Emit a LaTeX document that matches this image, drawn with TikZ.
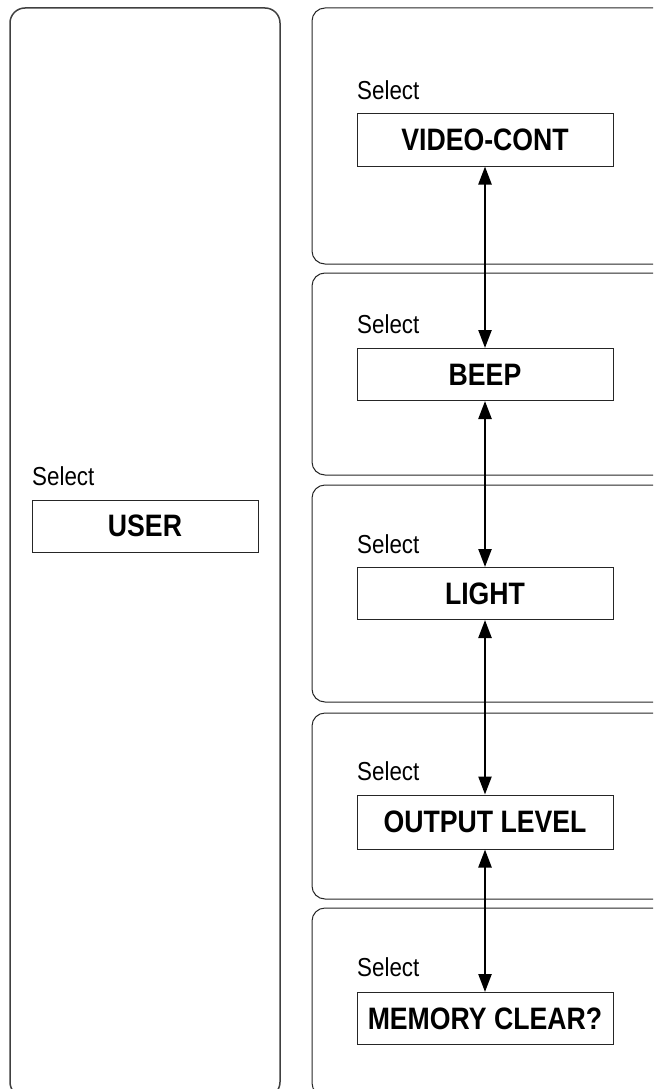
\documentclass[tikz,border=0pt]{standalone}
\usepackage{fontspec}
\setmainfont{Liberation Sans}[FakeStretch=0.86]
\usetikzlibrary{arrows.meta}
\tikzset{
  panel/.style={draw=black!85, line width=1pt, rounded corners=13pt},
  lpanel/.style={draw=black!75, line width=1.5pt, rounded corners=15pt},
  menubox/.style={draw=black!85, line width=1pt, minimum width=256pt, minimum height=52pt, inner sep=0pt,
    font=\fontsize{31}{36}\selectfont\bfseries},
  selectlbl/.style={anchor=base west, inner sep=0pt, font=\fontsize{26}{30}\selectfont},
  dbl/.style={line width=2.4pt, {Triangle[length=18pt,width=13pt]}-{Triangle[length=18pt,width=13pt]}}
}
\begin{document}
\begin{tikzpicture}[x=1pt,y=1pt]
\useasboundingbox (0,0) rectangle (653,-1089);
\clip (0,0) rectangle (653,-1089);
% panels
\draw[lpanel] (10,-8) rectangle (280,-1097);
\draw[panel] (312,-8) rectangle (690,-264);
\draw[panel] (312,-273) rectangle (690,-475);
\draw[panel] (312,-485) rectangle (690,-702);
\draw[panel] (312,-713) rectangle (690,-899);
\draw[panel] (312,-908) rectangle (690,-1096);
% left
\node[selectlbl] (su) at (32,-485) {Select};
\node[menubox, minimum width=226pt] (user) at (145,-526) {USER};
% right
\node[selectlbl] (s1) at (357,-100) {Select};
\node[menubox] (video) at (485,-140) {VIDEO-CONT};
\node[selectlbl] (s2) at (357,-333) {Select};
\node[menubox] (beep) at (485,-374.5) {BEEP};
\node[selectlbl] (s3) at (357,-553) {Select};
\node[menubox] (light) at (485,-593.5) {LIGHT};
\node[selectlbl] (s4) at (357,-780) {Select};
\node[menubox, minimum height=54pt] (output) at (485,-822) {OUTPUT LEVEL};
\node[selectlbl] (s5) at (357,-976) {Select};
\node[menubox] (memory) at (485,-1018.5) {MEMORY CLEAR?};
% connectors
\draw[dbl] (video.south) -- (beep.north);
\draw[dbl] (beep.south) -- (light.north);
\draw[dbl] (light.south) -- (output.north);
\draw[dbl] (output.south) -- (memory.north);
\end{tikzpicture}
\end{document}
